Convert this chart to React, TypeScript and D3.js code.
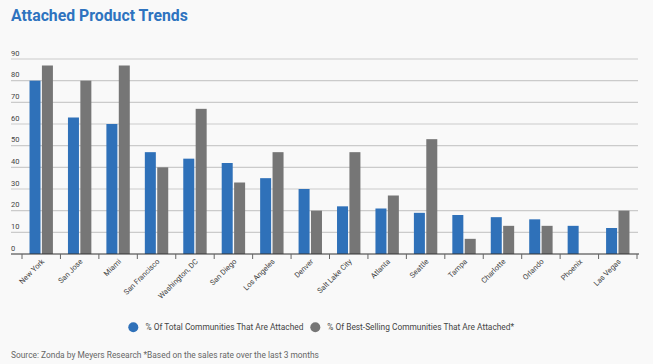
import React from "react";
import * as d3 from "d3";

const categories = ["New York","San Jose","Miami","San Francisco","Washington, DC","San Diego","Los Angeles","Denver","Salt Lake City","Atlanta","Seattle","Tampa","Charlotte","Orlando","Phoenix","Las Vegas"];
const totalAttached = [80,63,60,47,44,42,35,30,22,21,19,18,17,16,13,12];
const bestSelling = [87,80,87,40,67,33,47,20,47,27,53,7,13,13,0,20];
const yTicks = [0,10,20,30,40,50,60,70,80,90];
const seriesNames = ["% Of Total Communities That Are Attached","% Of Best-Selling Communities That Are Attached*"];
const colors = ["#2f71b9","#767676"];

export default function App() {
  const W = 653, H = 364;
  const x = d3.scaleBand<string>().domain(categories).range([22, 637]).padding(0);
  const y = d3.scaleLinear().domain([0, 90]).range([254, 59]);
  const barW = 11, gap = 1.4;
  const font = "Roboto, 'Noto Sans', sans-serif";
  return (
    <svg width={W} height={H} style={{position:"absolute",left:0,top:0,background:"#f9f9f9"}} fontFamily={font}>
      <rect width={W} height={H} fill="#f9f9f9" />
      <text x={11} y={21} fontSize={15.8} fontWeight="bold" fill="#2e73bf">Attached Product Trends</text>
      {yTicks.map(t => (
        <g key={t}>
          {t > 0 && <line x1={11} x2={638} y1={y(t)} y2={y(t)} stroke="#cbcbcb" strokeWidth={1.2} />}
          <text x={11} y={y(t) - 3.5} fontSize={7.5} fill="#444">{t}</text>
        </g>
      ))}
      {categories.map((c, i) => {
        const cx = (x(c) as number) + x.bandwidth() / 2;
        return (
          <g key={c}>
            <rect x={cx - gap/2 - barW} y={y(totalAttached[i])} width={barW} height={y(0) - y(totalAttached[i])} fill={colors[0]} />
            <rect x={cx + gap/2} y={y(bestSelling[i])} width={barW} height={y(0) - y(bestSelling[i])} fill={colors[1]} />
            <text transform={`translate(${cx + 3.5},${262}) rotate(-45)`} textAnchor="end" fontSize={7.5} fill="#444">{c}</text>
          </g>
        );
      })}
      <line x1={11} x2={639} y1={254} y2={254} stroke="#333" strokeWidth={1.2} />
      {d3.range(categories.length + 1).map(i => {
        const tx = 22 + i * x.bandwidth();
        return <line key={i} x1={tx} x2={tx} y1={254} y2={259} stroke="#666" strokeWidth={1} />;
      })}
      <circle cx={133.3} cy={327.3} r={5} fill={colors[0]} />
      <text x={145.5} y={330.3} fontSize={8.35} fill="#444">{seriesNames[0]}</text>
      <circle cx={315.3} cy={327.3} r={5} fill={colors[1]} />
      <text x={327.3} y={330.3} fontSize={8.35} fill="#444">{seriesNames[1]}</text>
      <text x={11} y={358} fontSize={8.4} fill="#666">Source: Zonda by Meyers Research *Based on the sales rate over the last 3 months</text>
    </svg>
  );
}
